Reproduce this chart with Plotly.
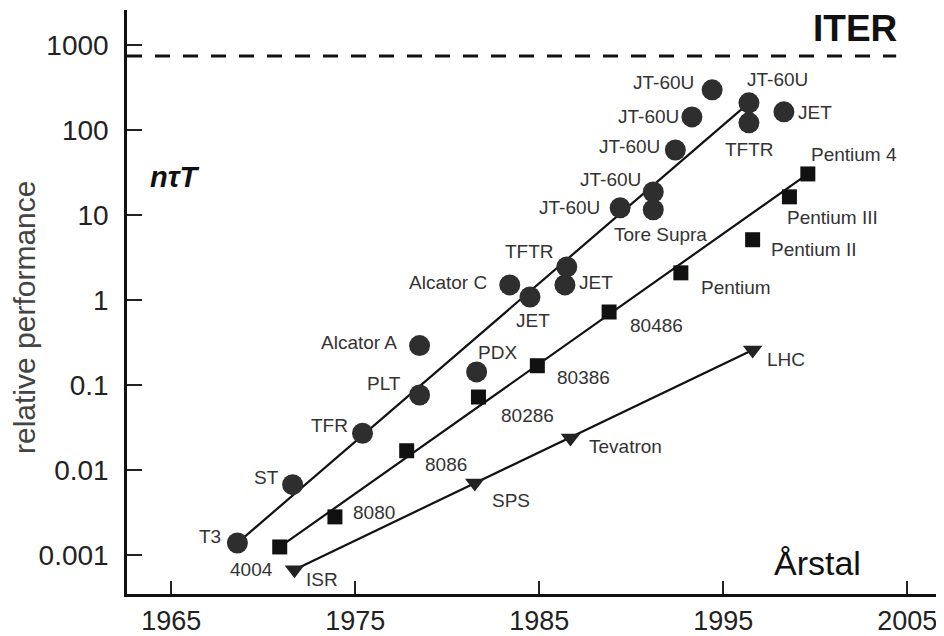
import math
import plotly.graph_objects as go

# ---------------- data ----------------
tok_names = ["T3", "ST", "TFR", "PLT", "Alcator A", "PDX", "Alcator C", "JET", "TFTR", "JET",
             "JT-60U", "JT-60U", "Tore Supra", "JT-60U", "JT-60U", "JT-60U", "JT-60U", "TFTR", "JET"]
tok_years = [1968.6, 1971.6, 1975.4, 1978.5, 1978.5, 1981.6, 1983.4, 1984.5, 1986.5, 1986.4,
             1989.4, 1991.2, 1991.2, 1992.4, 1993.3, 1994.4, 1996.4, 1996.4, 1998.3]
tok_vals = [0.00138, 0.0067, 0.027, 0.076, 0.29, 0.142, 1.5, 1.08, 2.44, 1.5,
            12.1, 18.6, 11.5, 58, 142, 296, 208, 121, 163]
tok_trend_years = [1968.6, 1996.4]
tok_trend_vals = [0.00138, 208]

cpu_names = ["4004", "8080", "8086", "80286", "80386", "80486", "Pentium", "Pentium II", "Pentium III", "Pentium 4"]
cpu_years = [1970.9, 1973.9, 1977.8, 1981.7, 1984.9, 1988.8, 1992.7, 1996.6, 1998.6, 1999.6]
cpu_vals = [0.00124, 0.0028, 0.0168, 0.072, 0.168, 0.72, 2.08, 5.1, 16.3, 30.3]
cpu_trend_years = [1970.9, 1999.6]
cpu_trend_vals = [0.00124, 30.3]

acc_names = ["ISR", "SPS", "Tevatron", "LHC"]
acc_years = [1971.7, 1981.5, 1986.7, 1996.6]
acc_vals = [0.00067, 0.0070, 0.0238, 0.258]

iter_years = [1962.6, 2004.4]
iter_vals = [740, 740]

x_ticks = [1965, 1975, 1985, 1995, 2005]
y_ticks = [0.001, 0.01, 0.1, 1, 10, 100, 1000]
y_ticktext = ["0.001", "0.01", "0.1", "1", "10", "100", "1000"]

# ---------------- label offsets (pixels, style only) ----------------
tok_off = [(-27, 7), (-26, 7), (-33, 8), (-36, 12), (-61, 3), (21, 19), (-62, 2), (3, -23), (-37, 15), (31, 2),
           (-51, 0), (-43, 12), (7, -25), (-46, 3), (-43, 0), (-49, 7), (29, 23), (1, -27), (31, -1)]
cpu_off = [(-28, -23), (39, 4), (39, -14), (49, -18), (46, -12), (47, -13), (55, -15), (61, -10), (43, -21), (46, 19)]
acc_off = [(28, -10), (36, -17), (55, -9), (33, -10)]

SANS = "Liberation Sans, Arial, sans-serif"
LBL_FONT = dict(family=SANS, size=19, color="#333333")

# the page body has an 8px default margin, so the figure is offset by 8px
OFF = 8
WL, WT, W, H = 127, 10, 817, 584          # plot area in window pixels
L, T = WL - OFF, WT - OFF
R = 944 - (WL + W) + OFF
B = 636 - T - H


def px(xp):
    return (xp - WL) / W


def py(yp):
    return (WT + H - yp) / H


fig = go.Figure()

# ITER dashed line
fig.add_trace(go.Scatter(x=iter_years, y=iter_vals, mode="lines",
                         line=dict(color="#111111", width=3, dash="15px,13px"),
                         hoverinfo="skip", showlegend=False))

# trend lines
fig.add_trace(go.Scatter(x=tok_trend_years, y=tok_trend_vals, mode="lines",
                         line=dict(color="#111111", width=2.2), showlegend=False))
fig.add_trace(go.Scatter(x=cpu_trend_years, y=cpu_trend_vals, mode="lines",
                         line=dict(color="#111111", width=2.2), showlegend=False))
fig.add_trace(go.Scatter(x=acc_years, y=acc_vals, mode="lines",
                         line=dict(color="#111111", width=2.2), showlegend=False))

# markers
fig.add_trace(go.Scatter(x=tok_years, y=tok_vals, mode="markers", text=tok_names,
                         marker=dict(symbol="circle", size=21, color="#2e2e2e"), showlegend=False))
fig.add_trace(go.Scatter(x=cpu_years, y=cpu_vals, mode="markers", text=cpu_names,
                         marker=dict(symbol="square", size=15, color="#111111"), showlegend=False))
fig.add_trace(go.Scatter(x=acc_years, y=acc_vals, mode="markers", text=acc_names,
                         marker=dict(symbol="triangle-down", size=17, color="#222222"), showlegend=False))

annotations = []
for names, xs, ys, offs in [(tok_names, tok_years, tok_vals, tok_off),
                            (cpu_names, cpu_years, cpu_vals, cpu_off),
                            (acc_names, acc_years, acc_vals, acc_off)]:
    for n, xv, yv, (dx, dy) in zip(names, xs, ys, offs):
        annotations.append(dict(x=xv, y=math.log10(yv), text=n, showarrow=False,
                                xshift=dx, yshift=dy, font=LBL_FONT,
                                xanchor="center", yanchor="middle"))

free = dict(xref="paper", yref="paper", showarrow=False, xanchor="center", yanchor="middle")
annotations += [
    dict(free, x=px(855), y=py(29), text="<b>ITER</b>",
         font=dict(family=SANS, size=37, color="#111111")),
    dict(free, x=px(175), y=py(177), text="<b><i>nτT</i></b>",
         font=dict(family=SANS, size=29, color="#111111")),
    dict(free, x=px(817), y=py(563), text="Årstal",
         font=dict(family=SANS, size=34, color="#111111")),
    dict(free, x=px(24), y=py(318), text="relative performance", textangle=-90,
         font=dict(family=SANS, size=30, color="#444444")),
]

fig.update_layout(
    width=944, height=636,
    margin=dict(l=L, r=R, t=T, b=B, pad=0, autoexpand=False),
    paper_bgcolor="white", plot_bgcolor="white",
    annotations=annotations,
    xaxis=dict(range=[1962.6, 2007.0], tickmode="array", tickvals=x_ticks, automargin=False,
               ticks="inside", ticklen=13, tickwidth=1.5, tickcolor="#222",
               showline=True, linecolor="#111", linewidth=2.5, showgrid=False, zeroline=False,
               ticklabelstandoff=1,
               tickfont=dict(family=SANS, size=27, color="#222")),
    yaxis=dict(type="log", range=[-3.46, 3.41], tickmode="array", tickvals=y_ticks, ticktext=y_ticktext,
               automargin=False,
               ticks="inside", ticklen=15, tickwidth=1.5, tickcolor="#222",
               showline=True, linecolor="#111", linewidth=2.5, showgrid=False, zeroline=False,
               ticklabelstandoff=10,
               tickfont=dict(family=SANS, size=28, color="#222")),
)

fig.write_html("out.html")
